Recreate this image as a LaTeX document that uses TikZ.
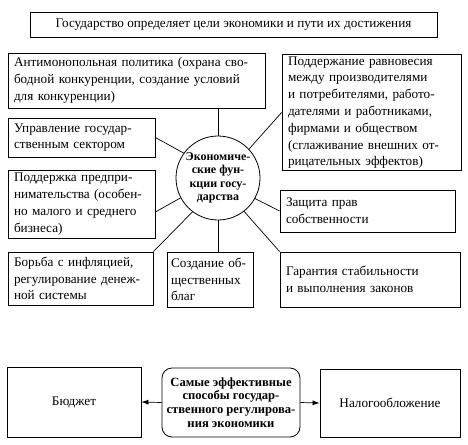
\documentclass[tikz,border=0pt]{standalone}
\usepackage{fontspec}
\setmainfont{Liberation Serif}
\usetikzlibrary{arrows.meta}

\begin{document}
\begin{tikzpicture}[x=1pt,y=-1pt,
  box/.style={draw, line width=0.8pt, inner xsep=6pt, inner ysep=2pt, align=left,
    font=\fontsize{13.2}{16.8}\selectfont},
  fnc/.style={draw, circle, line width=0.8pt, minimum size=84pt, inner sep=0pt,
    align=center, font=\fontsize{12}{13.4}\selectfont\bfseries},
  link/.style={line width=0.7pt}]
\useasboundingbox (0,0) rectangle (468,444);
% top
\node[box, align=center, minimum width=407pt, minimum height=25pt] (goal) at (233.5,24.5)
  {Государство определяет цели экономики и пути их достижения};
% functions of the state
\node[fnc] (func) at (218,178) {Экономиче-\\ские фун-\\кции госу-\\дарства};
\node[box, text width=245pt, minimum height=55pt] (anti) at (136.5,80.5)
  {Антимонопольная политика (охрана сво-\\бодной конкуренции, создание условий\\для конкуренции)};
\node[box, text width=167pt, minimum height=111pt] (balance) at (371.5,112.5)
  {Поддержание равновесия\\между производителями\\и потребителями, работо-\\дателями и работниками,\\фирмами и обществом\\(сглаживание внешних от-\\рицательных эффектов)};
\node[box, text width=135pt, minimum height=39pt] (sector) at (81.5,137.5)
  {Управление государ-\\ственным сектором};
\node[box, text width=135pt, minimum height=68pt] (business) at (81.5,204)
  {Поддержка предпри-\\нимательства (особен-\\но малого и среднего\\бизнеса)};
\node[box, text width=163pt, minimum height=42pt] (property) at (367.5,211)
  {Защита прав\\собственности};
\node[box, text width=133pt, minimum height=53pt] (money) at (80.5,278.5)
  {Борьба с инфляцией,\\регулирование денеж-\\ной системы};
\node[box, inner xsep=4pt, text width=78pt, minimum height=55pt] (goods) at (210,279.5)
  {\hbox{Создание об-}\\щественных\\благ};
\node[box, text width=168pt, minimum height=55pt] (law) at (370,279.5)
  {Гарантия стабильности\\и выполнения законов};
\draw[link] (func.north) -- (func.north |- anti.south);
\draw[link] (func.43) -- (balance.west);
\draw[link] (func.144) -- (sector.east);
\draw[link] (func.208) -- ([yshift=-8pt]business.east);
\draw[link] (func.233) -- (money.north east);
\draw[link] (func.south) -- (func.south |- goods.north);
\draw[link] (func.331) -- (property.west);
\draw[link] (func.308) -- (law.north west);
% regulation
\node[box, align=center, minimum width=134pt, minimum height=70pt] (budget) at (74,402) {Бюджет};
\node[box, rounded corners=10pt, align=center, minimum width=138pt, minimum height=69pt,
  inner xsep=3pt, font=\fontsize{12.6}{13.8}\selectfont\bfseries] (ways) at (231,402.5)
  {Самые эффективные\\способы государ-\\ственного регулирова-\\ния экономики};
\node[box, align=center, minimum width=140pt, minimum height=68pt] (tax) at (390,403) {Налогообложение};
\draw[link, -{Latex[length=7pt,width=5pt]}] (ways.west) -- (budget.east);
\draw[link, -{Latex[length=7pt,width=5pt]}] (ways.east) -- (tax.west);
\end{tikzpicture}
\end{document}
